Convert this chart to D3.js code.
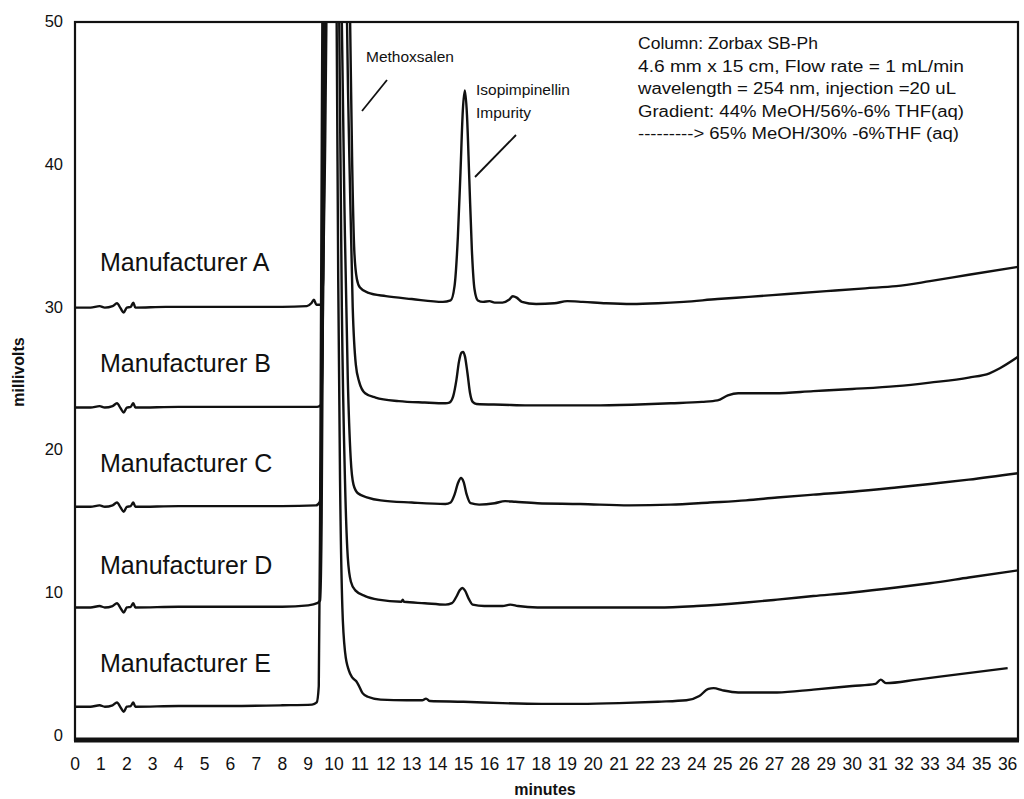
<!DOCTYPE html>
<html>
<head>
<meta charset="utf-8">
<script src="https://cdn.jsdelivr.net/npm/d3@7"></script>
<style>
  html, body { margin: 0; padding: 0; background: #fff; }
  svg { display: block; }
  text { font-family: "Liberation Sans", Arial, sans-serif; fill: #111; }
</style>
</head>
<body>
<div id="chart"></div>
<script>
// ---------------- data ----------------
const xTicks = d3.range(0, 37, 1);          // minutes 0..36
const yTicks = [0, 10, 20, 30, 40, 50];       // millivolts
const manufacturers = ["Manufacturer A", "Manufacturer B", "Manufacturer C", "Manufacturer D", "Manufacturer E"];
const labelLevels = [33.2, 26.1, 19.1, 12.0, 5.1];  // mV level of each label

const traceA = [[0,30.0],[0.6,30.0],[0.95,30.1],[1.15,30.0],[1.45,30.1],[1.62,30.3],[1.76,29.95],[1.88,29.65],[2.0,30.0],[2.15,30.05],[2.25,30.35],[2.33,30.0],[3.5,30.05],[5.0,30.05],[6.5,30.05],[8.0,30.05],[8.95,30.1],[9.12,30.3],[9.22,30.55],[9.32,30.2],[9.5,30.2],[9.58,32],[9.66,42],[9.73,55],[9.85,75],[10.15,85],[10.45,70],[10.62,50],[10.7,40],[10.78,34],[10.88,32],[11.0,31.4],[11.3,31.05],[12,30.8],[13,30.6],[14.2,30.4],[14.5,30.5],[14.65,31.5],[14.78,35],[14.88,39.5],[14.97,43.8],[15.05,45.2],[15.13,43.5],[15.22,39],[15.32,34],[15.42,31.3],[15.55,30.5],[15.75,30.4],[16.0,30.45],[16.2,30.35],[16.5,30.35],[16.75,30.55],[16.9,30.8],[17.05,30.7],[17.25,30.4],[17.8,30.25],[18.5,30.3],[19.0,30.45],[19.6,30.4],[20.5,30.3],[21.5,30.25],[22.5,30.3],[23.5,30.4],[24.8,30.6],[26,30.75],[27.5,30.95],[29,31.15],[30.5,31.35],[31.7,31.5],[33,31.85],[34.5,32.3],[36.4,32.85]];

const traceB = [[0,23.0],[0.6,23.0],[0.95,23.1],[1.15,23.0],[1.45,23.1],[1.62,23.3],[1.76,22.95],[1.88,22.65],[2.0,23.0],[2.15,23.05],[2.25,23.3],[2.33,23.0],[4,23.05],[6,23.05],[8,23.05],[9.35,23.05],[9.5,23.2],[9.56,28],[9.62,40],[9.68,55],[9.8,80],[10.1,90],[10.4,70],[10.5,50],[10.62,38],[10.72,30],[10.84,26],[10.97,24.8],[11.2,24.0],[11.6,23.7],[12.5,23.45],[13.5,23.35],[14.3,23.3],[14.45,23.35],[14.6,23.8],[14.72,24.9],[14.82,26.2],[14.92,26.85],[14.98,26.9],[15.05,26.6],[15.15,25.4],[15.25,24.0],[15.35,23.4],[15.5,23.25],[16.5,23.2],[17.5,23.15],[18.5,23.15],[20,23.15],[21.5,23.2],[23,23.3],[24.2,23.4],[24.8,23.5],[25.2,23.85],[25.6,24.0],[27,24.0],[28.5,24.15],[30,24.3],[31.7,24.5],[33,24.75],[34.5,25.1],[35.3,25.4],[35.7,25.75],[36.4,26.55]];

const traceC = [[0,16.05],[0.6,16.05],[0.95,16.15],[1.15,16.05],[1.45,16.15],[1.62,16.35],[1.76,16.0],[1.88,15.7],[2.0,16.05],[2.15,16.1],[2.25,16.35],[2.33,16.05],[4,16.1],[6,16.1],[8,16.1],[9.3,16.15],[9.45,16.4],[9.52,22],[9.57,35],[9.62,55],[9.75,80],[10.05,85],[10.25,60],[10.3,50],[10.42,35],[10.53,25],[10.64,19.5],[10.75,17.6],[10.92,17.0],[11.3,16.7],[11.8,16.5],[13,16.35],[14.3,16.25],[14.5,16.35],[14.65,16.9],[14.78,17.7],[14.9,18.07],[15.0,17.8],[15.12,16.9],[15.27,16.3],[15.6,16.2],[16.2,16.3],[16.6,16.45],[17.0,16.4],[17.85,16.3],[19.5,16.25],[21.4,16.15],[23,16.2],[24.5,16.35],[25.9,16.5],[27.1,16.7],[28.5,16.9],[30,17.1],[31.7,17.4],[33,17.65],[34.5,17.95],[36.4,18.4]];

const traceD = [[0,9.0],[0.6,9.0],[0.95,9.1],[1.15,9.0],[1.45,9.1],[1.62,9.3],[1.76,8.95],[1.88,8.65],[2.0,9.0],[2.15,9.05],[2.25,9.3],[2.33,9.0],[4,9.05],[6,9.05],[8,9.05],[9.0,9.15],[9.35,9.3],[9.46,9.5],[9.52,15],[9.57,30],[9.62,55],[9.75,80],[10.05,80],[10.17,55],[10.2,50],[10.3,30],[10.42,18],[10.53,12.5],[10.65,10.8],[10.82,10.2],[11.2,9.8],[11.7,9.55],[12.6,9.4],[12.65,9.55],[12.7,9.4],[13.5,9.3],[14.3,9.2],[14.55,9.3],[14.72,9.75],[14.85,10.2],[14.95,10.36],[15.05,10.2],[15.2,9.6],[15.35,9.2],[15.8,9.1],[16.5,9.1],[16.8,9.2],[17.1,9.1],[17.85,9.0],[19.5,9.0],[21,9.0],[22.5,9.0],[24,9.1],[25.9,9.35],[27.1,9.55],[28.5,9.8],[30,10.05],[31.7,10.4],[33,10.7],[34.5,11.1],[36.4,11.6]];

const traceE = [[0,2.05],[0.6,2.05],[0.95,2.15],[1.15,2.05],[1.45,2.15],[1.62,2.35],[1.76,2.0],[1.88,1.7],[2.0,2.05],[2.15,2.1],[2.25,2.35],[2.33,2.05],[4,2.1],[6,2.1],[8,2.15],[9.15,2.2],[9.33,2.35],[9.41,3.5],[9.46,15],[9.51,35],[9.56,55],[9.7,80],[9.98,80],[10.07,55],[10.1,50],[10.16,32],[10.23,18],[10.32,9],[10.43,5.8],[10.57,4.6],[10.7,4.1],[10.85,3.85],[10.95,3.55],[11.1,3.0],[11.3,2.75],[11.8,2.55],[12.8,2.5],[13.4,2.5],[13.55,2.62],[13.7,2.45],[15,2.4],[16.5,2.3],[18,2.25],[19.5,2.25],[21,2.3],[22.5,2.4],[23.6,2.5],[24.1,2.8],[24.45,3.3],[24.65,3.35],[25.0,3.2],[25.6,3.05],[27.1,3.05],[28.5,3.25],[30.0,3.5],[30.9,3.65],[31.1,3.95],[31.3,3.7],[32.5,3.95],[34,4.3],[36.0,4.75]];

const traces = [traceA, traceB, traceC, traceD, traceE];

const infoLines = [
  "Column: Zorbax SB-Ph",
  "4.6 mm x 15 cm, Flow  rate = 1 mL/min",
  "wavelength = 254 nm, injection =20 uL",
  "Gradient: 44% MeOH/56%-6% THF(aq)",
  "---------> 65% MeOH/30% -6%THF (aq)"
];
const infoWidths = [180, 326, 318, 326, 321];

// ---------------- layout ----------------
const W = 1024, H = 799;
const L = 75, R = 1018, T = 22, B = 736;

const svg = d3.select("#chart").append("svg")
  .attr("width", W).attr("height", H);

const x = d3.scaleLinear().domain([0, 36.4]).range([L, R]);
const y = d3.scaleLinear().domain([0, 50]).range([B, T]);

svg.append("clipPath").attr("id", "plotclip")
  .append("rect").attr("x", L).attr("y", T).attr("width", R - L).attr("height", 740 - T);

// traces
const line = d3.line().x(d => x(d[0])).y(d => y(d[1])).curve(d3.curveMonotoneX);
svg.append("g").attr("clip-path", "url(#plotclip)")
  .selectAll("path").data(traces).join("path")
  .attr("d", line)
  .attr("fill", "none")
  .attr("stroke", "#111")
  .attr("stroke-width", 2.4)
  .attr("stroke-linejoin", "round");

// frame
svg.append("rect").attr("x", L).attr("y", T).attr("width", R - L).attr("height", 740 - T)
  .attr("fill", "none").attr("stroke", "#111").attr("stroke-width", 2.2);
svg.append("line").attr("x1", L - 1).attr("x2", R + 1).attr("y1", 740).attr("y2", 740)
  .attr("stroke", "#111").attr("stroke-width", 5);

// y ticks
svg.append("g").selectAll("text").data(yTicks).join("text")
  .attr("x", 63).attr("y", d => y(d) + 5)
  .attr("text-anchor", "end")
  .attr("font-size", 16.5)
  .text(d => d);

// x ticks
svg.append("g").selectAll("text").data(xTicks).join("text")
  .attr("x", d => x(d)).attr("y", 770)
  .attr("text-anchor", "middle")
  .attr("font-size", 17.5)
  .text(d => d);

// axis titles
svg.append("text").attr("x", 545).attr("y", 795)
  .attr("text-anchor", "middle").attr("font-size", 16).attr("font-weight", "bold")
  .text("minutes");
svg.append("text").attr("transform", "translate(24,372) rotate(-90)")
  .attr("text-anchor", "middle").attr("font-size", 16).attr("font-weight", "bold")
  .text("millivolts");

// manufacturer labels
svg.append("g").selectAll("text").data(manufacturers).join("text")
  .attr("x", 100).attr("y", (d, i) => y(labelLevels[i]) + 9)
  .attr("font-size", 25)
  .text(d => d);

// peak annotations
svg.append("text").attr("x", 366).attr("y", 62).attr("font-size", 15.5).text("Methoxsalen");
svg.append("line").attr("x1", 387).attr("y1", 80).attr("x2", 362).attr("y2", 111)
  .attr("stroke", "#111").attr("stroke-width", 1.8);
svg.append("text").attr("x", 476).attr("y", 95).attr("font-size", 15.5).text("Isopimpinellin");
svg.append("text").attr("x", 476).attr("y", 118).attr("font-size", 15.5).text("Impurity");
svg.append("line").attr("x1", 516).attr("y1", 135).attr("x2", 475).attr("y2", 177)
  .attr("stroke", "#111").attr("stroke-width", 1.8);

// info block
svg.append("g").selectAll("text").data(infoLines).join("text")
  .attr("x", 638).attr("y", (d, i) => 49 + i * 22.5)
  .attr("font-size", 16)
  .attr("textLength", (d, i) => infoWidths[i])
  .attr("lengthAdjust", "spacingAndGlyphs")
  .text(d => d);
</script>
</body>
</html>
